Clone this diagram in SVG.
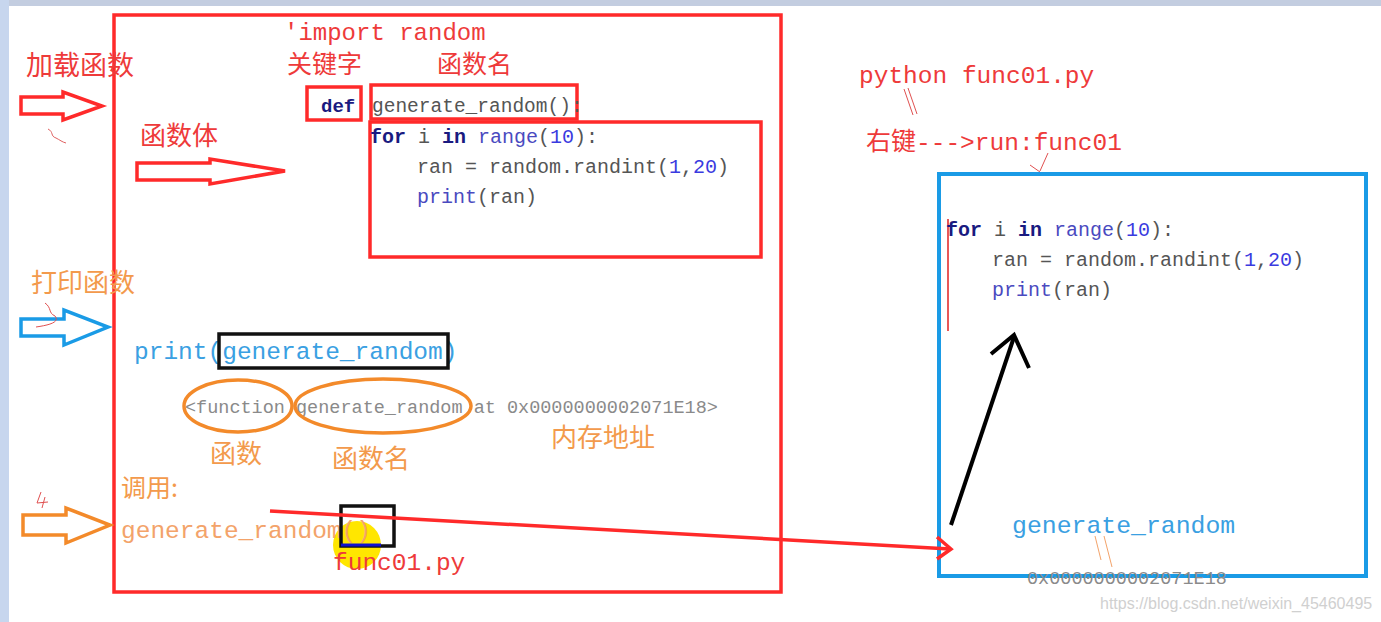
<svg xmlns="http://www.w3.org/2000/svg" width="1381" height="622" viewBox="0 0 1381 622">
<style>
.code{font-family:"Liberation Mono","DejaVu Sans Mono",monospace;}
.cjk{font-family:"Noto Sans CJK SC",sans-serif;}
.red{fill:#ee3a3a;}
.org{fill:#f39a4c;}
.kw{fill:#1a1a80;font-weight:bold;}
.fn{fill:#4a4ac0;}
.num{fill:#3a3ae0;}
.gry{fill:#555;}
.box{fill:none;stroke:#ff2a2a;stroke-width:3.5;}
</style>
<rect x="0" y="0" width="1381" height="622" fill="#fff"/>
<rect x="0" y="0" width="1381" height="6" fill="#c3cde0"/>
<rect x="0" y="0" width="9" height="622" fill="#c7d6ee"/>

<g id="main-frame">
<rect class="box" x="114" y="15" width="667" height="577"/>
</g>

<g id="header">
<text class="code red" x="284" y="40" font-size="24">'import random</text>
<text class="cjk red" x="287" y="73" font-size="25">关键字</text>
<text class="cjk red" x="437" y="73" font-size="25">函数名</text>
</g>

<g id="def-node">
<rect class="box" x="307" y="87" width="54" height="33"/>
<text class="code kw" x="321" y="112" font-size="19">def</text>
</g>

<g id="name-node">
<rect class="box" x="371" y="85" width="206" height="34"/>
<text class="code gry" x="372" y="112" font-size="19.5">generate_random():</text>
</g>

<g id="body-node">
<rect class="box" x="370" y="122" width="391" height="135"/>
<text class="code gry" x="370" y="143" font-size="20"><tspan class="kw">for</tspan> i <tspan class="kw">in</tspan> <tspan class="fn">range</tspan>(<tspan class="num">10</tspan>):</text>
<text class="code gry" x="417" y="173" font-size="20">ran = random.randint(<tspan class="num">1</tspan>,<tspan class="num">20</tspan>)</text>
<text class="code gry" x="417" y="203" font-size="20"><tspan class="fn">print</tspan>(ran)</text>
</g>

<g id="load-label">
<text class="cjk red" x="26" y="75" font-size="27">加载函数</text>
<path d="M21,97 H63 V92 L102,106 L63,120 V114 H21 Z" fill="none" stroke="#ff2a2a" stroke-width="3.5" stroke-linejoin="miter"/>
<path d="M48,129 C54,132 50,136 56,138 C60,140 62,142 66,143" fill="none" stroke="#e06060" stroke-width="1"/>
</g>

<g id="body-label">
<text class="cjk red" x="140" y="145" font-size="26">函数体</text>
<path d="M137,163 H210 V159 L285,171 L210,184 V180 H137 Z" fill="none" stroke="#ff2a2a" stroke-width="3.5"/>
</g>

<g id="print-label">
<text class="cjk org" x="31" y="292" font-size="26">打印函数</text>
<path d="M21,319 H64 V310 L108,327 L64,345 V336 H21 Z" fill="none" stroke="#1a9be6" stroke-width="3.5"/>
<path d="M45,303 C52,308 48,313 55,316 C60,322 50,325 36,327" fill="none" stroke="#e05050" stroke-width="1"/>
</g>

<g id="print-call">
<text class="code" x="134" y="359" font-size="24.5" fill="#3aa0e2">print(generate_random)</text>
<rect x="219" y="334" width="229" height="34" fill="none" stroke="#111" stroke-width="3.5"/>
</g>

<g id="function-repr">
<text class="code" x="185" y="413" font-size="18.5" fill="#8a8a8a">&lt;function generate_random at 0x0000000002071E18&gt;</text>
<ellipse cx="238" cy="406" rx="54" ry="26" fill="none" stroke="#f38a2a" stroke-width="3.5"/>
<ellipse cx="383" cy="406" rx="88" ry="27" fill="none" stroke="#f38a2a" stroke-width="3.5"/>
<text class="cjk org" x="210" y="463" font-size="26">函数</text>
<text class="cjk org" x="332" y="468" font-size="26">函数名</text>
<text class="cjk org" x="551" y="447" font-size="26">内存地址</text>
</g>

<g id="call-label">
<text class="cjk org" x="121" y="497" font-size="25">调用:</text>
<path d="M23,515 H66 V508 L110,525 L66,543 V535 H23 Z" fill="none" stroke="#f38a2a" stroke-width="3.5"/>
<path d="M41,492 L37,503 L48,502 M45,497 L42,508" fill="none" stroke="#e05050" stroke-width="1"/>
</g>

<g id="call-node">
<circle cx="357" cy="545" r="24" fill="#ffe600"/>
<text class="code" x="121" y="538" font-size="24.5" fill="#f3a36a">generate_random()</text>
<rect x="341" y="506" width="53" height="40" fill="none" stroke="#111" stroke-width="3.5"/>
<line x1="341" y1="545" x2="381" y2="545" stroke="#1010d0" stroke-width="3"/>
<text class="code red" x="333" y="570" font-size="24.5">func01.py</text>
</g>

<g id="run-label">
<text class="code red" x="859" y="83" font-size="24.5">python func01.py</text>
<path d="M904,89 L913,115 M908,88 L917,114" stroke="#e05050" stroke-width="1" fill="none"/>
<text x="866" y="150" font-size="25" class="red" font-family="Noto Sans CJK SC,sans-serif">右键<tspan font-family="Liberation Mono,monospace" font-size="24.5">---&gt;run:func01</tspan></text>
<path d="M1048,153 L1040,171 M1030,165 L1040,172" stroke="#e05050" stroke-width="1" fill="none"/>
</g>

<g id="run-node">
<rect x="939" y="174" width="427" height="402" fill="none" stroke="#1a9be6" stroke-width="4"/>
<line x1="948" y1="219" x2="948" y2="331" stroke="#e02020" stroke-width="1.5"/>
<text class="code gry" x="946" y="236" font-size="20"><tspan class="kw">for</tspan> i <tspan class="kw">in</tspan> <tspan class="fn">range</tspan>(<tspan class="num">10</tspan>):</text>
<text class="code gry" x="992" y="266" font-size="20">ran = random.randint(<tspan class="num">1</tspan>,<tspan class="num">20</tspan>)</text>
<text class="code gry" x="992" y="296" font-size="20"><tspan class="fn">print</tspan>(ran)</text>
<text class="code" x="1012" y="533" font-size="24.8" fill="#3aa0e2">generate_random</text>
<path d="M1095,536 L1101,560 M1104,536 L1112,567" stroke="#f3a36a" stroke-width="1" fill="none"/>
<text class="code" x="1027" y="584" font-size="18.5" fill="#8a8a8a">0x0000000002071E18</text>
</g>

<g id="connectors">
<line x1="270" y1="511" x2="950" y2="549" stroke="#ff2a2a" stroke-width="3.5"/>
<path d="M937,537 L951,549 L937,559" fill="none" stroke="#ff2a2a" stroke-width="3.5"/>
<line x1="951" y1="525" x2="1014" y2="337" stroke="#000" stroke-width="4"/>
<path d="M991,354 L1014,335 L1029,368" fill="none" stroke="#000" stroke-width="4"/>
</g>

<text x="1100" y="609" font-size="16" fill="#d0d0d0" font-family="Liberation Sans,sans-serif">https://blog.csdn.net/weixin_45460495</text>
</svg>
